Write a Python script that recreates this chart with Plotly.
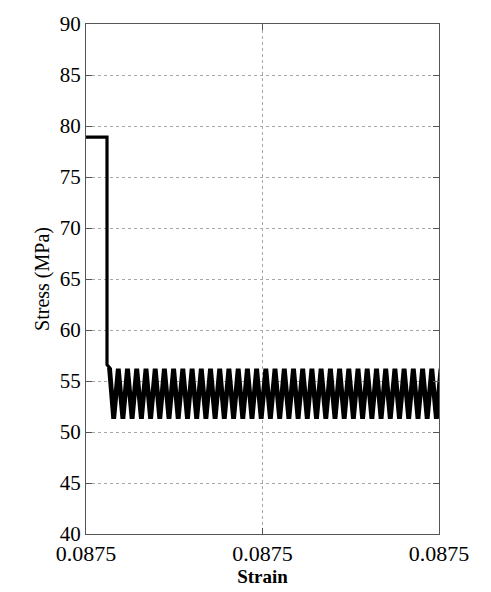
import plotly.graph_objects as go

# ---- data ----
strain_base = 0.0875
# strain offsets in units of 1e-8 from the base strain
strain_offset_e8 = [
    0.0, 21.0, 21.0, 23.5,
    27.7, 32.3, 36.9, 41.5, 46.1, 50.7, 55.4, 60.0, 64.6, 69.2,
    73.8, 78.4, 83.0, 87.6, 92.2, 96.8, 101.5, 106.1, 110.7, 115.3,
    119.9, 124.5, 129.1, 133.7, 138.3, 142.9, 147.6, 152.2, 156.8, 161.4,
    166.0, 170.6, 175.2, 179.8, 184.4, 189.0, 193.7, 198.3, 202.9, 207.5,
    212.1, 216.7, 221.3, 225.9, 230.5, 235.1, 239.8, 244.4, 249.0, 253.6,
    258.2, 262.8, 267.4, 272.0, 276.6, 281.2, 285.9, 290.5, 295.1, 299.7,
    304.3, 308.9, 313.5, 318.1, 322.7, 327.3, 332.0, 336.6, 341.2, 345.8,
    350.4, 355.0,
]
stress = [
    78.9, 78.9, 56.6, 56.3,
    51.3, 56.2, 51.3, 56.2, 51.3, 56.2, 51.3, 56.2, 51.3, 56.2,
    51.3, 56.2, 51.3, 56.2, 51.3, 56.2, 51.3, 56.2, 51.3, 56.2,
    51.3, 56.2, 51.3, 56.2, 51.3, 56.2, 51.3, 56.2, 51.3, 56.2,
    51.3, 56.2, 51.3, 56.2, 51.3, 56.2, 51.3, 56.2, 51.3, 56.2,
    51.3, 56.2, 51.3, 56.2, 51.3, 56.2, 51.3, 56.2, 51.3, 56.2,
    51.3, 56.2, 51.3, 56.2, 51.3, 56.2, 51.3, 56.2, 51.3, 56.2,
    51.3, 56.2, 51.3, 56.2, 51.3, 56.2, 51.3, 56.2, 51.3, 56.2,
    51.3, 56.2,
]
n_initial = 4  # points of the initial plateau and drop
x_range = [0.0875, 0.08750353]
x_ticks = [0.0875, 0.087501765, 0.08750353]
x_tick_labels = ["0.0875", "0.0875", "0.0875"]
y_ticks = [40, 45, 50, 55, 60, 65, 70, 75, 80, 85, 90]

strain = [strain_base + v * 1e-8 for v in strain_offset_e8]

FONT = "Liberation Serif, DejaVu Serif, serif"

fig = go.Figure()
# initial plateau + drop (thinner stroke)
fig.add_trace(go.Scatter(
    x=strain[:n_initial + 1], y=stress[:n_initial + 1], mode="lines",
    line=dict(color="black", width=3.2),
    showlegend=False,
))
# oscillating part (dense, heavy stroke)
fig.add_trace(go.Scatter(
    x=strain[n_initial - 1:], y=stress[n_initial - 1:], mode="lines",
    line=dict(color="black", width=4.8),
    showlegend=False,
))

fig.update_layout(
    width=491, height=592,
    margin=dict(l=86, r=52, t=16, b=55),
    paper_bgcolor="white", plot_bgcolor="white",
    font=dict(family=FONT, size=20, color="black"),
)
fig.update_xaxes(
    range=x_range, tickvals=x_ticks, ticktext=x_tick_labels,
    showgrid=True, gridcolor="#a8a8a8", griddash="dot", gridwidth=1,
    showline=True, linecolor="#555555", linewidth=1, mirror="ticks",
    ticks="inside", ticklen=6, tickcolor="#555555",
    zeroline=False,
    title=dict(text="<b>Strain</b>", font=dict(family=FONT, size=19), standoff=0),
    tickfont=dict(family=FONT, size=22),
)
fig.update_yaxes(
    range=[40, 90], tickvals=y_ticks,
    showgrid=True, gridcolor="#a8a8a8", griddash="dot", gridwidth=1,
    showline=True, linecolor="#555555", linewidth=1, mirror="ticks",
    ticks="inside", ticklen=6, tickcolor="#555555",
    zeroline=False,
    title=dict(text="Stress (MPa)", font=dict(family=FONT, size=20), standoff=4),
    tickfont=dict(family=FONT, size=21),
)

fig.write_html("out.html")
